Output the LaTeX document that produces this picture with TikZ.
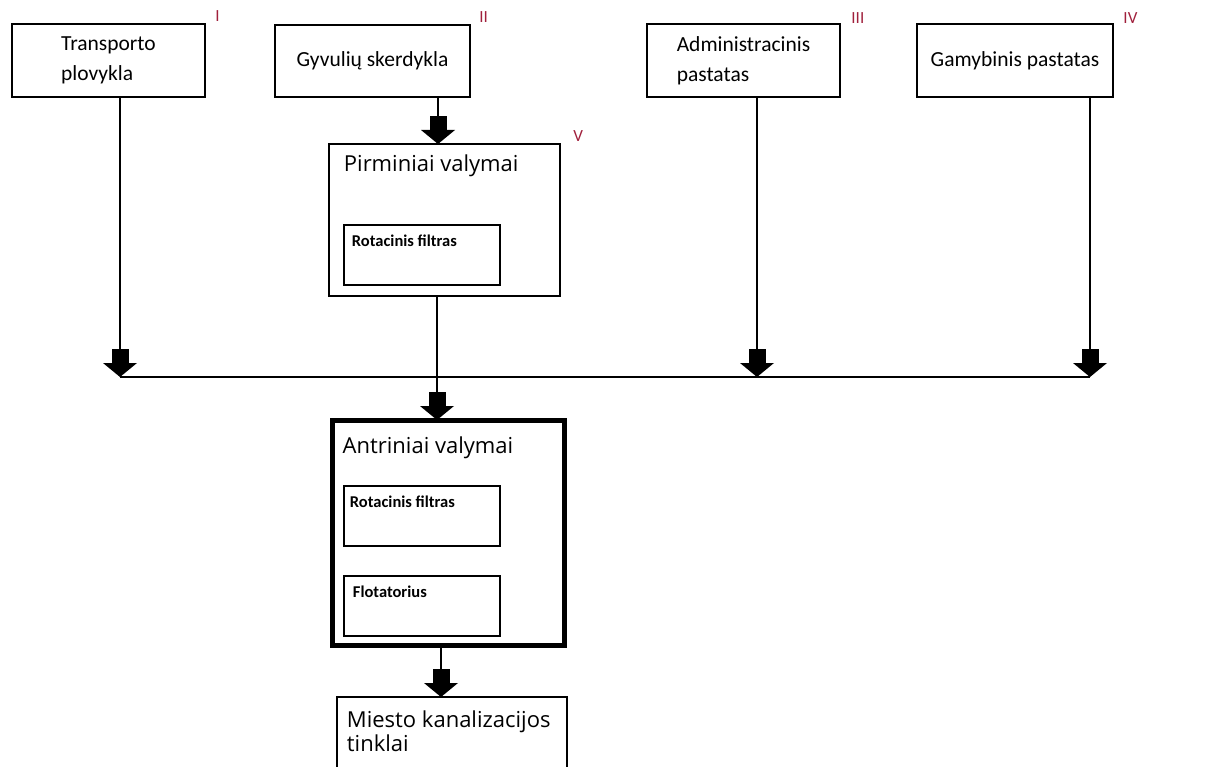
\documentclass[tikz,border=0pt]{standalone}
\usepackage{fontspec}
\setmainfont{Carlito}
\newfontfamily\headfont{Open Sans}
\usetikzlibrary{arrows.meta,positioning}
\definecolor{numred}{RGB}{160,32,60}

\begin{document}
\begin{tikzpicture}[x=1pt,y=-1pt,
      box/.style={rectangle, draw, line width=2.5pt, inner sep=0pt, align=left, font=\fontsize{21.5}{30}\selectfont},
      subbox/.style={rectangle, draw, line width=2.5pt, inner sep=0pt, minimum width=156pt, minimum height=60pt},
      head/.style={inner sep=0pt, anchor=north west, align=left, font=\headfont\fontsize{22}{24}\selectfont},
      sub/.style={inner sep=0pt, anchor=north west, font=\bfseries\fontsize{16.5}{18}\selectfont},
      num/.style={inner sep=0pt, anchor=west, text=numred, font=\fontsize{17}{18}\selectfont},
      pipe/.style={line width=2.5pt},
      flow/.style={line width=2.5pt, -{Rectangle[length=14pt,width=17pt,sep=0pt,line width=0pt]Triangle[length=14pt,width=34pt,line width=0pt]}}]
      \useasboundingbox (0,0) rectangle (1228,767);
      \clip (0,0) rectangle (1228,767);
      % sources
      \node[box, minimum width=193pt, minimum height=73pt](src1) at (108.5, 60.5){Transporto\\plovykla};
      \node[box, minimum width=195pt, minimum height=72pt](src2) at (372.5, 61){Gyvulių skerdykla};
      \node[box, minimum width=193pt, minimum height=73pt](src3) at (743.5, 60.5){Administracinis\\pastatas};
      \node[box, minimum width=196pt, minimum height=73pt](src4) at (1015, 60.5){Gamybinis pastatas};
      \node[num] at ([shift={(9,-7)}]src1.north east){I};
      \node[num] at ([shift={(8,-7)}]src2.north east){II};
      \node[num] at ([shift={(10,-5)}]src3.north east){III};
      \node[num] at ([shift={(9,-5)}]src4.north east){IV};
      % primary treatment
      \node[box, minimum width=231pt, minimum height=152pt](prim) at (444.5, 220){};
      \node[head] at ([shift={(16,12)}]prim.north west){Pirminiai valymai};
      \node[num] at ([shift={(12,-7)}]prim.north east){V};
      \node[subbox](filter1) at (422, 255){};
      \node[sub] at ([shift={(9,11)}]filter1.north west){Rotacinis filtras};
      % secondary treatment
      \node[box, line width=5pt, minimum width=232pt, minimum height=225pt](sec) at (448, 532.5){};
      \node[head] at ([shift={(13,19)}]sec.north west){Antriniai valymai};
      \node[subbox](filter2) at (422, 516){};
      \node[sub] at ([shift={(7,11)}]filter2.north west){Rotacinis filtras};
      \node[subbox](flot) at (422, 606){};
      \node[sub] at ([shift={(10,11)}]flot.north west){Flotatorius};
      % city sewer
      \node[box, minimum width=230pt, minimum height=103pt](city) at (452, 748.5){};
      \node[head] at ([shift={(11,15)}]city.north west){Miesto kanalizacijos\\tinklai};
      % collector
      \coordinate(j1) at (120, 377);
      \coordinate(j3) at (757, 377);
      \coordinate(j4) at (1090, 377);
      \coordinate(vin) at (438, 144);
      \coordinate(sin) at (437, 420);
      \coordinate(cin) at (441, 697);
      \draw[pipe] (j1) -- (j4);
      \draw[flow] (src1.south -| j1) -- (j1);
      \draw[flow] (src2.south -| vin) -- (vin);
      \draw[flow] (src3.south -| j3) -- (j3);
      \draw[flow] (src4.south -| j4) -- (j4);
      \draw[flow] (prim.south -| sin) -- (sin);
      \draw[flow] (sec.south -| cin) -- (cin);
    \end{tikzpicture}
\end{document}
